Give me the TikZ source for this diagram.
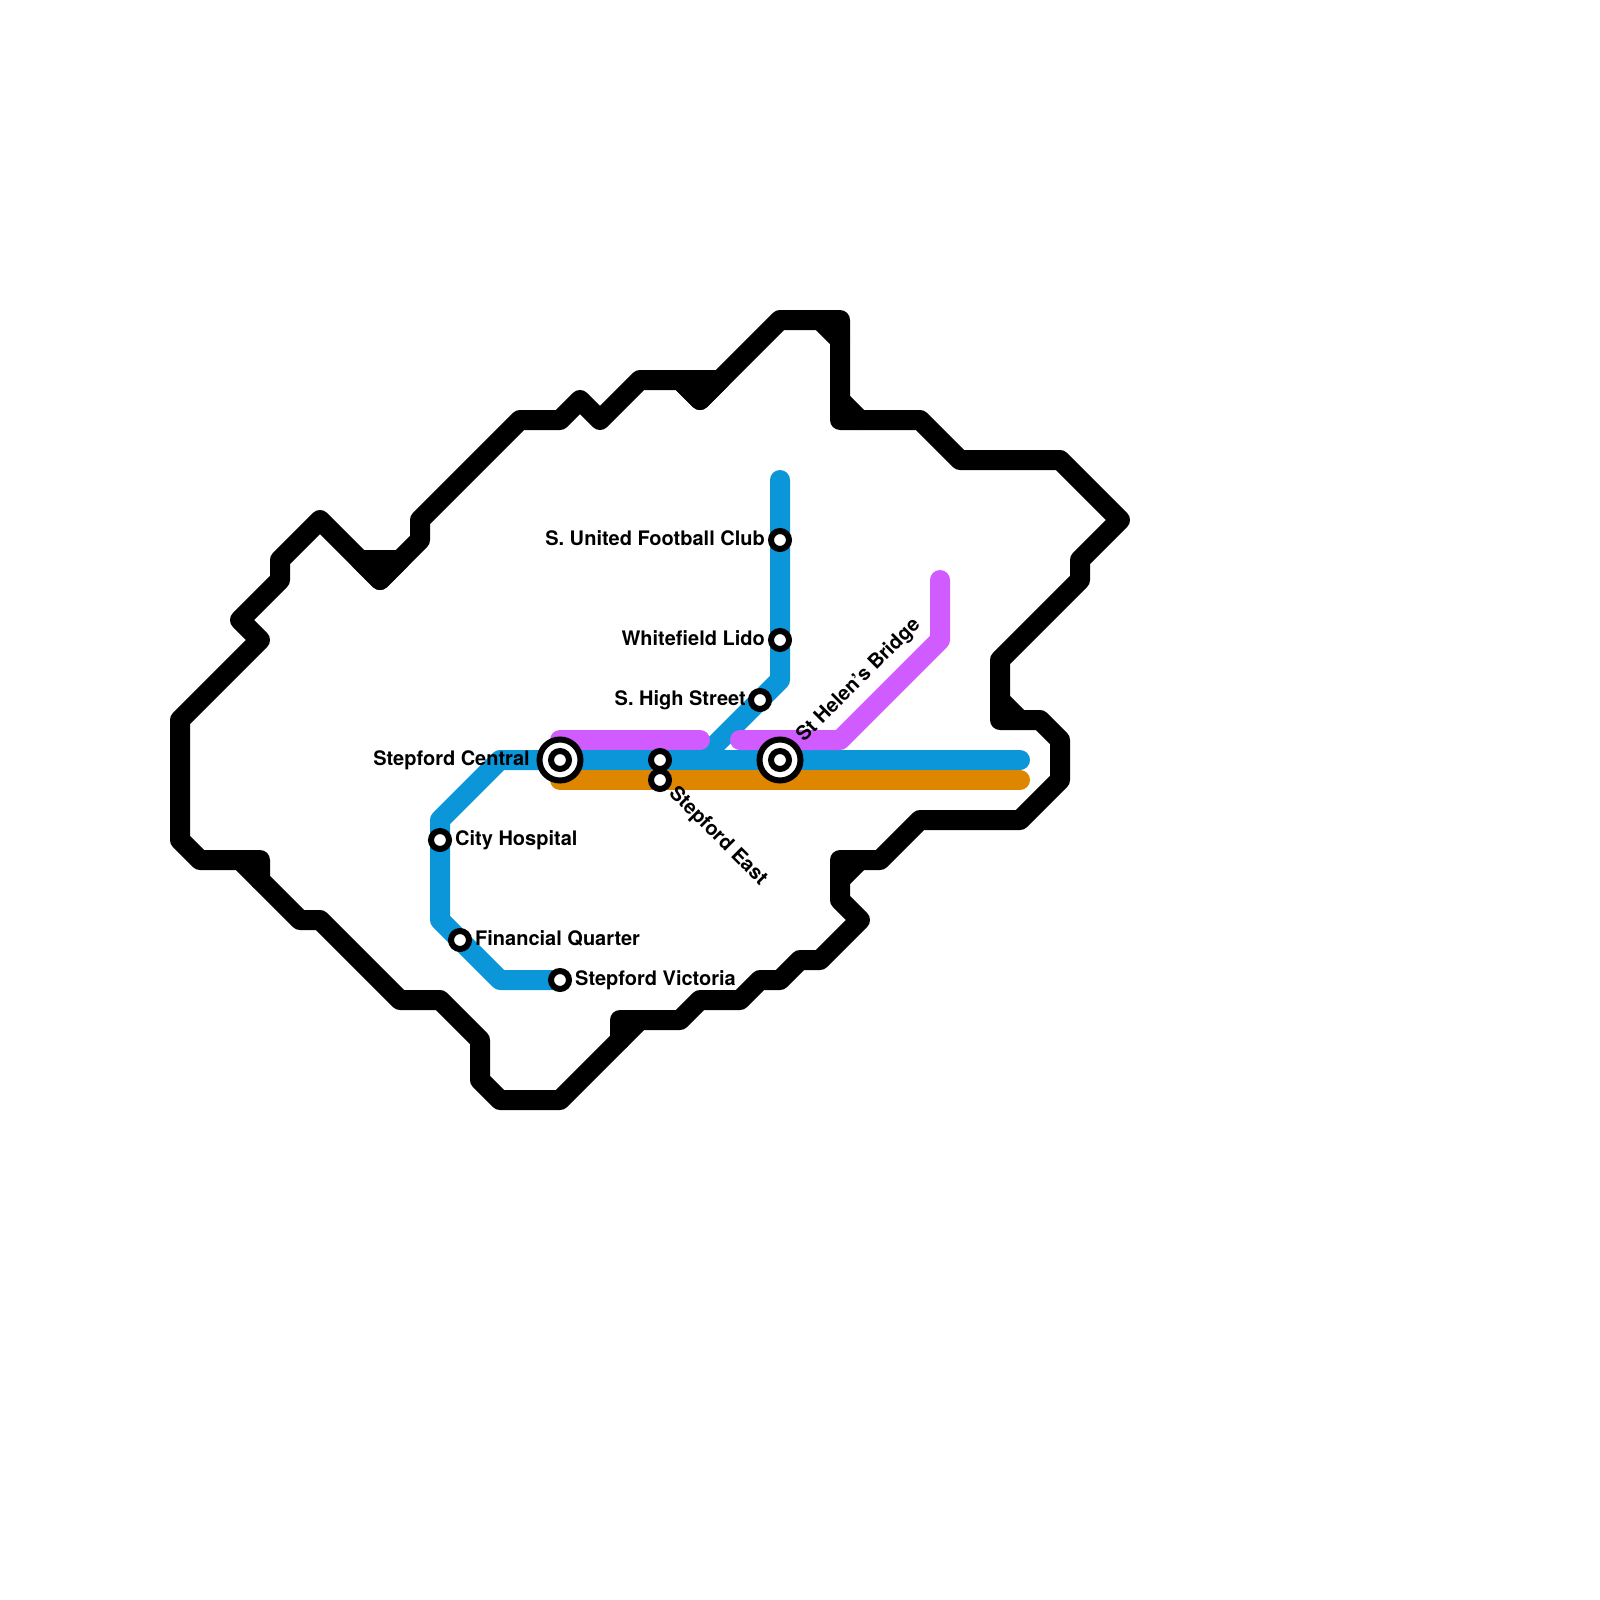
\documentclass[tikz,border=0pt]{standalone}
\usepackage{fontspec}
\setmainfont{TeX Gyre Heros}
\definecolor{lineblue}{HTML}{0A96D8}
\definecolor{linepurple}{HTML}{D05CFF}
\definecolor{lineorange}{HTML}{DF8600}
\begin{document}
\begin{tikzpicture}[x=1pt,y=-1pt,
  route/.style={line width=20pt,line cap=round,line join=round},
  outline/.style={route,draw=black},
  halt/.style={circle,draw=black,fill=white,line width=6pt,inner sep=0pt,minimum size=18pt},
  hub/.style={circle,draw=black,fill=white,line width=6pt,inner sep=0pt,minimum size=41pt},
  lbl/.style={font=\fontsize{20}{24}\selectfont\bfseries,text=black,inner sep=0pt}]
\useasboundingbox (0,0) rectangle (1600,1600);
% outer boundary
\draw[outline] (180,720) -- (260,640) -- (240,620) -- (280,580) -- (280,560) -- (320,520)
  -- (380,580) -- (420,540) -- (420,520) -- (520,420) -- (560,420) -- (580,400) -- (600,420)
  -- (640,380) -- (680,380) -- (700,400) -- (780,320) -- (840,320) -- (840,420) -- (920,420)
  -- (960,460) -- (1060,460) -- (1120,520) -- (1080,560) -- (1080,580) -- (1000,660) -- (1000,720)
  -- (1040,720) -- (1060,740) -- (1060,780) -- (1020,820) -- (920,820) -- (880,860) -- (840,860)
  -- (840,900) -- (860,920) -- (820,960) -- (800,960) -- (780,980) -- (760,980) -- (740,1000)
  -- (700,1000) -- (680,1020) -- (620,1020) -- (620,1040) -- (560,1100) -- (500,1100) -- (480,1080)
  -- (480,1040) -- (440,1000) -- (400,1000) -- (320,920) -- (300,920) -- (260,880) -- (260,860)
  -- (200,860) -- (180,840) -- cycle;
% outline fillets
\draw[outline] (360,560) -- (400,560) -- (380,580) -- cycle;
\draw[outline] (680,380) -- (720,380) -- (700,400) -- cycle;
\draw[outline] (820,320) -- (840,340);
\draw[outline] (840,400) -- (860,420);
\draw[outline] (1000,700) -- (1020,720);
\draw[outline] (840,880) -- (860,860);
\draw[outline] (620,1040) -- (640,1020);
\draw[outline] (240,860) -- (260,880);
% stations
\coordinate (bTop) at (780,480);
\coordinate (bBend) at (780,680);
\coordinate (bJoin) at (700,760);
\coordinate (bEnd) at (1020,760);
\coordinate (bW) at (500,760);
\coordinate (bNW) at (440,820);
\coordinate (bSW) at (440,920);
\coordinate (bS) at (500,980);
\coordinate (pA) at (560,740);
\coordinate (pB) at (700,740);
\coordinate (pC) at (740,740);
\coordinate (pD) at (840,740);
\coordinate (pE) at (940,640);
\coordinate (pF) at (940,580);
\coordinate (oA) at (560,780);
\coordinate (oB) at (1020,780);
\coordinate (central) at (560,760);
\coordinate (victoria) at (560,980);
% routes
\draw[route,draw=lineblue] (bTop) -- (bBend) -- (bJoin);
\draw[route,draw=lineblue] (bEnd) -- (bW) -- (bNW) -- (bSW) -- (bS) -- (victoria);
\draw[route,draw=linepurple] (pA) -- (pB);
\draw[route,draw=linepurple] (pC) -- (pD) -- (pE) -- (pF);
\draw[route,draw=lineorange] (oA) -- (oB);
% station markers
\node[hub] (hubC) at (central) {};
\node[halt] (stC) at (central) {};
\node[hub] (hubH) at (780,760) {};
\node[halt] (stH) at (780,760) {};
\node[halt] (stE1) at (660,760) {};
\node[halt] (stE2) at (660,780) {};
\node[halt] (stU) at (780,540) {};
\node[halt] (stW) at (780,640) {};
\node[halt] (stS) at (760,700) {};
\node[halt] (stCH) at (440,840) {};
\node[halt] (stF) at (460,940) {};
\node[halt] (stV) at (victoria) {};
% labels
\node[lbl,anchor=base east] (lU) at (765,545) {S. United Football Club};
\node[lbl,anchor=base east] (lW) at (765,645) {Whitefield Lido};
\node[lbl,anchor=base east] (lS) at (746,705) {S. High Street};
\node[lbl,anchor=base east] (lC) at (530,765) {Stepford Central};
\node[lbl,anchor=base west] (lCH) at (455,845) {City Hospital};
\node[lbl,anchor=base west] (lF) at (475,945) {Financial Quarter};
\node[lbl,anchor=base west] (lV) at (575,985) {Stepford Victoria};
\node[lbl,anchor=base west,rotate=45] (lH) at (804,743) {St Helen’s Bridge};
\node[lbl,anchor=base west,rotate=-45] (lE) at (668,794) {Stepford East};
\end{tikzpicture}
\end{document}
